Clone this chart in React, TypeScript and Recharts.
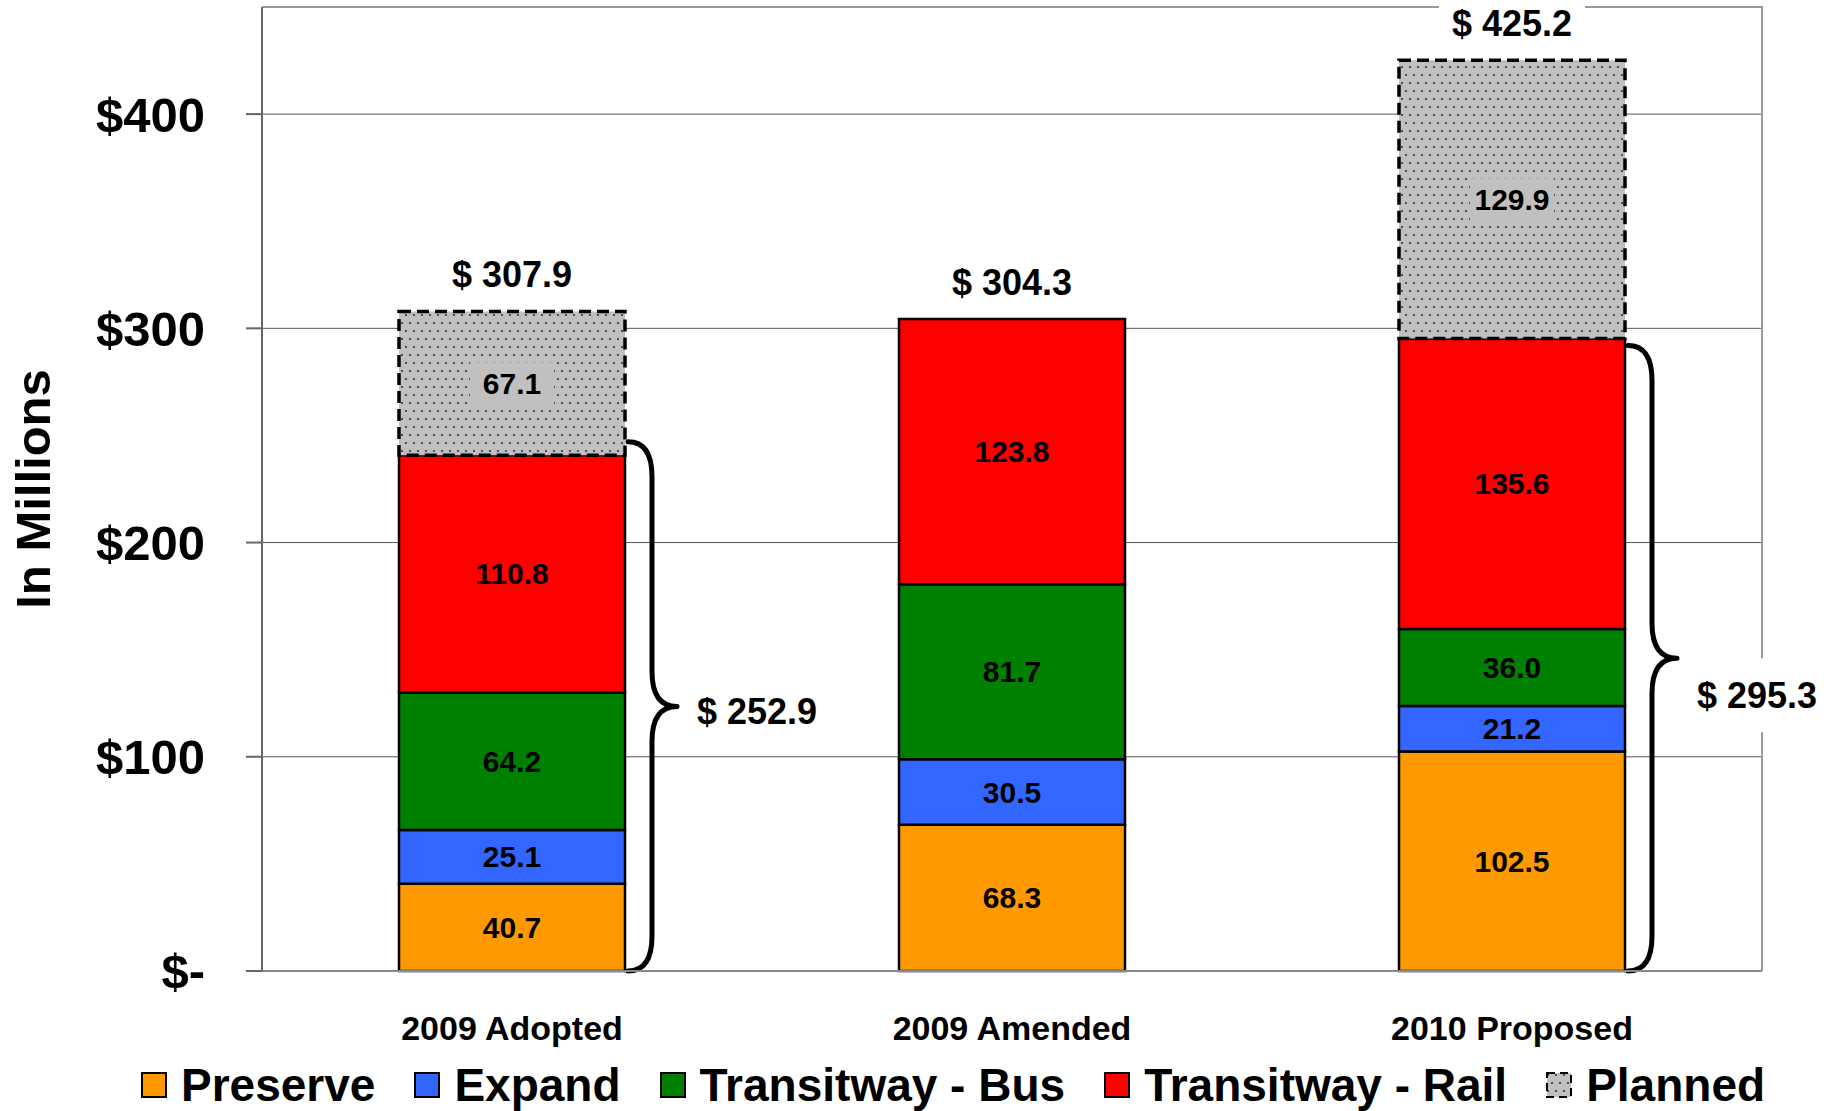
import React from 'react'
import {
  BarChart,
  Bar,
  XAxis,
  YAxis,
  CartesianGrid,
  Legend,
  LabelList,
  ReferenceArea,
  ReferenceDot,
} from 'recharts'

const categories = ['2009 Adopted', '2009 Amended', '2010 Proposed']
const preserve = [40.7, 68.3, 102.5]
const expand = [25.1, 30.5, 21.2]
const transitBus = [64.2, 81.7, 36.0]
const transitRail = [110.8, 123.8, 135.6]
const planned = [67.1, 0, 129.9]
const totals = [307.9, 304.3, 425.2]
// braces on the right of bars 1 and 3 (label value, and where the brace ends)
const braceTotals = [252.9, null, 295.3]
const braceTops = [247, null, 292]
const yTicks = [0, 100, 200, 300, 400]

const FONT = '"Liberation Sans", Arial, Helvetica, sans-serif'
const BAR_SIZE = 226
const braceLabelDy = [5, 37]

const series = [
  { key: 'preserve', name: 'Preserve', color: '#FF9900' },
  { key: 'expand', name: 'Expand', color: '#3366FF' },
  { key: 'bus', name: 'Transitway - Bus', color: '#008000' },
  { key: 'rail', name: 'Transitway - Rail', color: '#FF0000' },
  { key: 'planned', name: 'Planned', color: 'url(#dots)' },
]

const data = categories.map((name, i) => ({
  name,
  preserve: preserve[i],
  expand: expand[i],
  bus: transitBus[i],
  rail: transitRail[i],
  planned: planned[i],
}))

const fmtTick = (v: number) => (v === 0 ? '$-' : `$${v}`)

const boxOf = (props: any) => {
  const vb = props.viewBox && props.viewBox.width != null ? props.viewBox : props
  return { x: vb.x, y: vb.y, width: vb.width, height: vb.height }
}

const segmentLabel = (props: any) => {
  const v = Number(props.value)
  if (!v) return null
  const { x, y, width, height } = boxOf(props)
  return (
    <text
      x={x + width / 2}
      y={y + height / 2}
      textAnchor="middle"
      dominantBaseline="central"
      fontSize={30}
      fontWeight="bold"
      fontFamily={FONT}
      fill="#000"
    >
      {v.toFixed(1)}
    </text>
  )
}

const plannedLabel = (props: any) => {
  const v = Number(props.value)
  if (!v) return null
  const { x, y, width, height } = boxOf(props)
  const cx = x + width / 2
  const cy = y + height / 2
  return (
    <g>
      <rect x={cx - 42} y={cy - 21} width={84} height={42} fill="#C0C0C0" />
      <text
        x={cx}
        y={cy}
        textAnchor="middle"
        dominantBaseline="central"
        fontSize={30}
        fontWeight="bold"
        fontFamily={FONT}
        fill="#000"
      >
        {v.toFixed(1)}
      </text>
    </g>
  )
}

const TotalLabel = ({ cx, cy, value }: any) => {
  const y = cy - 37
  return (
    <g>
      <rect x={cx - 73} y={y - 25} width={146} height={50} fill="#fff" />
      <text
        x={cx}
        y={y}
        textAnchor="middle"
        dominantBaseline="central"
        fontSize={36}
        fontWeight="bold"
        fontFamily={FONT}
        fill="#000"
      >
        {`$ ${value.toFixed(1)}`}
      </text>
    </g>
  )
}

const Brace = ({ x, y, width, height, total, labelDy }: any) => {
  const right = x + width / 2 + BAR_SIZE / 2
  const x0 = right + 3
  const x1 = right + 27
  const xt = right + 52
  const top = y
  const bottom = y + height
  const mid = (top + bottom) / 2
  const r = 35
  const d =
    `M${x0},${top} Q${x1},${top} ${x1},${top + r} L${x1},${mid - r} ` +
    `Q${x1},${mid} ${xt},${mid} Q${x1},${mid} ${x1},${mid + r} ` +
    `L${x1},${bottom - r} Q${x1},${bottom} ${x0},${bottom}`
  const lx = right + 72
  const ly = mid + labelDy
  return (
    <g>
      <path d={d} fill="none" stroke="#000" strokeWidth={5} strokeLinecap="round" strokeLinejoin="round" />
      <rect x={lx - 6} y={ly - 37} width={134} height={74} fill="#fff" />
      <text
        x={lx}
        y={ly}
        dominantBaseline="central"
        fontSize={36}
        fontWeight="bold"
        fontFamily={FONT}
        fill="#000"
      >
        {`$ ${total.toFixed(1)}`}
      </text>
    </g>
  )
}

const Swatch = ({ color, dashed }: { color: string; dashed?: boolean }) => (
  <svg width={26} height={26} style={{ marginRight: 14, flexShrink: 0 }}>
    <rect
      x={1}
      y={1}
      width={24}
      height={24}
      fill={color}
      stroke="#000"
      strokeWidth={2}
      strokeDasharray={dashed ? '8 5' : undefined}
    />
  </svg>
)

const renderLegend = () => (
  <div
    style={{
      display: 'flex',
      alignItems: 'center',
      fontFamily: FONT,
      fontWeight: 'bold',
      fontSize: 46,
      lineHeight: '52px',
      color: '#000',
      whiteSpace: 'nowrap',
    }}
  >
    {series.map((s, i) => (
      <div
        key={s.key}
        style={{ display: 'flex', alignItems: 'center', marginRight: i < series.length - 1 ? 39 : 0 }}
      >
        <Swatch color={s.color} dashed={s.key === 'planned'} />
        <span>{s.name}</span>
      </div>
    ))}
  </div>
)

const yTitle = (props: any) => {
  const vb = props.viewBox || { y: 7, height: 964 }
  const cy = vb.y + vb.height / 2
  return (
    <text
      x={33}
      y={cy}
      transform={`rotate(-90, 33, ${cy})`}
      textAnchor="middle"
      dominantBaseline="central"
      fontSize={49}
      fontWeight="bold"
      fontFamily={FONT}
      fill="#000"
    >
      In Millions
    </text>
  )
}

export default function App() {
  return (
    <div style={{ position: 'absolute', left: 0, top: 0, fontFamily: FONT, background: '#fff' }}>
      <BarChart width={1835} height={1111} data={data} margin={{ top: 7, right: 73, bottom: 0, left: 0 }}>
        <defs>
          <pattern id="dots" width={8} height={16} patternUnits="userSpaceOnUse">
            <rect width={8} height={16} fill="#C0C0C0" />
            <circle cx={2} cy={3} r={1.1} fill="#333" />
            <circle cx={6} cy={11} r={1.1} fill="#333" />
          </pattern>
        </defs>
        <CartesianGrid vertical={false} stroke="#555" />
        <XAxis
          dataKey="name"
          height={140}
          interval={0}
          tickLine={false}
          tickSize={0}
          tickMargin={45}
          axisLine={{ stroke: '#888', strokeWidth: 2 }}
          tick={{ fill: '#000', fontSize: 34, fontWeight: 'bold', fontFamily: FONT }}
        />
        <YAxis
          width={262}
          domain={[0, 450]}
          ticks={yTicks}
          interval={0}
          tickFormatter={fmtTick}
          tickSize={16}
          tickMargin={41}
          axisLine={{ stroke: '#666', strokeWidth: 2 }}
          tickLine={{ stroke: '#666', strokeWidth: 2 }}
          tick={{ fill: '#000', fontSize: 49, fontWeight: 'bold', fontFamily: FONT }}
          label={{ content: yTitle }}
        />
        <ReferenceArea
          y1={0}
          y2={450}
          ifOverflow="visible"
          shape={(p: any) => (
            <path
              d={`M${p.x},${p.y} H${p.x + p.width} V${p.y + p.height}`}
              fill="none"
              stroke="#999"
              strokeWidth={2}
            />
          )}
        />
        <Legend
          layout="horizontal"
          verticalAlign="middle"
          align="center"
          wrapperStyle={{ top: 1059, left: 141, width: 'auto' }}
          content={renderLegend}
        />
        <Bar dataKey="preserve" name="Preserve" stackId="a" barSize={BAR_SIZE} fill="#FF9900" stroke="#000" strokeWidth={2.5} isAnimationActive={false}>
          <LabelList dataKey="preserve" content={segmentLabel} />
        </Bar>
        <Bar dataKey="expand" name="Expand" stackId="a" barSize={BAR_SIZE} fill="#3366FF" stroke="#000" strokeWidth={2.5} isAnimationActive={false}>
          <LabelList dataKey="expand" content={segmentLabel} />
        </Bar>
        <Bar dataKey="bus" name="Transitway - Bus" stackId="a" barSize={BAR_SIZE} fill="#008000" stroke="#000" strokeWidth={2.5} isAnimationActive={false}>
          <LabelList dataKey="bus" content={segmentLabel} />
        </Bar>
        <Bar dataKey="rail" name="Transitway - Rail" stackId="a" barSize={BAR_SIZE} fill="#FF0000" stroke="#000" strokeWidth={2.5} isAnimationActive={false}>
          <LabelList dataKey="rail" content={segmentLabel} />
        </Bar>
        <Bar
          dataKey="planned"
          name="Planned"
          stackId="a"
          barSize={BAR_SIZE}
          fill="url(#dots)"
          stroke="#000"
          strokeWidth={3.5}
          strokeDasharray="12 6"
          isAnimationActive={false}
        >
          <LabelList dataKey="planned" content={plannedLabel} />
        </Bar>
        {categories.map((c, i) =>
          braceTops[i] == null ? null : (
            <ReferenceArea
              key={`brace-${c}`}
              x1={c}
              x2={c}
              y1={0}
              y2={braceTops[i] as number}
              ifOverflow="visible"
              shape={(p: any) => (
                <Brace {...p} total={braceTotals[i]} labelDy={braceLabelDy[i === 0 ? 0 : 1]} />
              )}
            />
          )
        )}
        {categories.map((c, i) => (
          <ReferenceDot
            key={`total-${c}`}
            x={c}
            y={totals[i]}
            r={0}
            ifOverflow="visible"
            shape={(p: any) => <TotalLabel cx={p.cx} cy={p.cy} value={totals[i]} />}
          />
        ))}
      </BarChart>
    </div>
  )
}
